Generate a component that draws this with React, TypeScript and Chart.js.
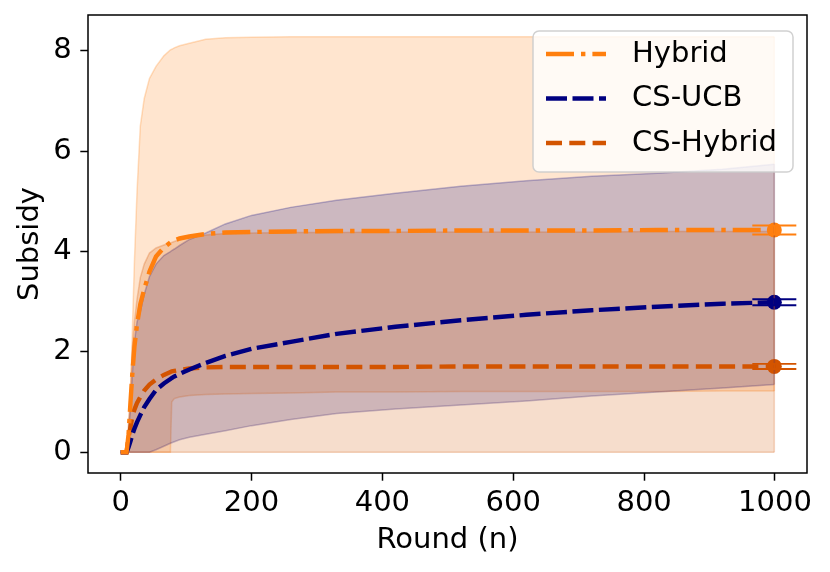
import { useEffect, useRef } from 'react';
import { Chart, registerables } from 'chart.js';

Chart.register(...registerables);

const FONT = 'DejaVu Sans';

// shared x samples (round index)
const rounds = [0, 9, 12, 15, 18, 21, 25, 30, 36, 44, 54, 66, 76, 78, 82, 90, 105, 130, 160, 200, 260, 330, 420, 520, 620, 720, 820, 920, 999];

// mean curves
const hybridMean = [0, 0, 0.35, 1.0, 1.6, 2.1, 2.55, 2.95, 3.25, 3.6, 3.9, 4.08, 4.18, 4.2, 4.22, 4.26, 4.3, 4.35, 4.38, 4.39, 4.4, 4.41, 4.41, 4.42, 4.42, 4.42, 4.43, 4.43, 4.43];
const csUcbMean = [0, 0, 0.1, 0.22, 0.36, 0.47, 0.6, 0.74, 0.9, 1.06, 1.24, 1.37, 1.46, 1.48, 1.51, 1.56, 1.65, 1.78, 1.92, 2.06, 2.2, 2.36, 2.5, 2.63, 2.74, 2.83, 2.9, 2.96, 2.99];
const csHybridMean = [0, 0, 0.3, 0.5, 0.72, 0.85, 0.98, 1.1, 1.23, 1.35, 1.45, 1.54, 1.6, 1.61, 1.62, 1.64, 1.67, 1.69, 1.7, 1.7, 1.7, 1.7, 1.7, 1.71, 1.71, 1.71, 1.71, 1.71, 1.71];

// shaded ranges
const hybridUpper = [0, 0, 0.4, 1.1, 2.5, 3.8, 5.2, 6.5, 7.05, 7.45, 7.69, 7.9, 8.02, 8.03, 8.06, 8.1, 8.15, 8.23, 8.26, 8.27, 8.28, 8.28, 8.28, 8.28, 8.28, 8.28, 8.28, 8.28, 8.28];
const hybridLower = [0, 0, 0, 0, 0, 0, 0, 0, 0, 0, 0, 0, 0, 1.0, 1.07, 1.1, 1.13, 1.15, 1.16, 1.17, 1.18, 1.2, 1.2, 1.21, 1.21, 1.21, 1.21, 1.22, 1.22];
const csUcbUpper = [0, 0, 0.4, 0.9, 1.6, 2.2, 2.6, 2.8, 3.15, 3.5, 3.75, 3.92, 4.0, 4.02, 4.05, 4.12, 4.24, 4.37, 4.55, 4.72, 4.88, 5.02, 5.16, 5.3, 5.41, 5.5, 5.56, 5.64, 5.74];
const csUcbLower = [0, 0, 0, 0, 0, 0, 0, 0, 0, 0, 0.05, 0.12, 0.18, 0.19, 0.21, 0.25, 0.3, 0.36, 0.43, 0.53, 0.65, 0.77, 0.86, 0.94, 1.02, 1.12, 1.2, 1.28, 1.35];
const csHybridUpper = [0, 0, 0.6, 1.3, 2.1, 2.6, 3.05, 3.48, 3.75, 3.97, 4.07, 4.13, 4.17, 4.18, 4.2, 4.24, 4.29, 4.33, 4.36, 4.37, 4.38, 4.38, 4.39, 4.39, 4.39, 4.39, 4.4, 4.4, 4.4];
const csHybridLower = [0, 0, 0, 0, 0, 0, 0, 0, 0, 0, 0, 0, 0, 0, 0, 0, 0, 0, 0, 0, 0, 0, 0, 0, 0, 0, 0, 0, 0];

// error at the final round for each mean
const finalErrors = [0.09, 0.06, 0.05];

const xTicks = [0, 200, 400, 600, 800, 1000];
const yTicks = [0, 2, 4, 6, 8];

const labels = ['Hybrid', 'CS-UCB', 'CS-Hybrid'];
const colors = ['#ff7f0e', '#000080', '#d35400'];
const dashes = [[28, 7, 4.4, 7], [21, 5.5], [16, 7.3]];

const rgba = (hex: string, a: number) => {
    const n = parseInt(hex.slice(1), 16);
    return `rgba(${(n >> 16) & 255}, ${(n >> 8) & 255}, ${n & 255}, ${a})`;
};

const pts = (ys: number[]) => ys.map((y, i) => ({ x: rounds[i], y }));

const lastIdx = rounds.length - 1;

function meanDataset(i: number, ys: number[]) {
    return {
        label: labels[i],
        data: pts(ys),
        borderColor: colors[i],
        backgroundColor: colors[i],
        borderWidth: 4.4,
        borderDash: dashes[i],
        fill: false,
        tension: 0,
        order: i,
        pointRadius: (ctx: any) => (ctx.dataIndex === lastIdx ? 7.5 : 0),
        pointHoverRadius: 0,
        pointBorderWidth: 0,
        pointBackgroundColor: colors[i],
    };
}

function bandDataset(color: string, ys: number[], fill: any, order: number) {
    return {
        label: '',
        data: pts(ys),
        borderColor: rgba(color, 0.25),
        backgroundColor: rgba(color, 0.2),
        borderWidth: 1.5,
        fill,
        tension: 0,
        order,
        pointRadius: 0,
        pointHoverRadius: 0,
    };
}

// [upper, lower] dataset indices of each band, for the closing edge at the last round
const bandPairs = [[3, 4], [5, 6], [7, 8]];

const noPad = (s: any) => {
    s.paddingTop = 0;
    s.paddingBottom = 0;
    s.paddingLeft = 0;
    s.paddingRight = 0;
};

const extras = {
    id: 'extras',
    afterDatasetsDraw(chart: any) {
        const { ctx, scales } = chart;
        const y = scales.y;
        ctx.save();
        bandPairs.forEach(([u, l]) => {
            const pu = chart.getDatasetMeta(u).data[lastIdx];
            const pl = chart.getDatasetMeta(l).data[lastIdx];
            ctx.strokeStyle = chart.data.datasets[u].borderColor;
            ctx.lineWidth = 1.5;
            ctx.beginPath();
            ctx.moveTo(pu.x, pu.y);
            ctx.lineTo(pl.x, pl.y);
            ctx.stroke();
        });
        for (let i = 0; i < 3; i++) {
            const pt = chart.getDatasetMeta(i).data[lastIdx];
            const v = chart.data.datasets[i].data[lastIdx].y;
            const top = y.getPixelForValue(v + finalErrors[i]);
            const bot = y.getPixelForValue(v - finalErrors[i]);
            ctx.strokeStyle = colors[i];
            ctx.lineWidth = 1.9;
            ctx.beginPath();
            ctx.moveTo(pt.x - 22, top);
            ctx.lineTo(pt.x + 22, top);
            ctx.moveTo(pt.x - 22, bot);
            ctx.lineTo(pt.x + 22, bot);
            ctx.moveTo(pt.x, top);
            ctx.lineTo(pt.x, bot);
            ctx.stroke();
        }
        ctx.restore();
    },
    afterDraw(chart: any) {
        const { ctx, chartArea: a } = chart;
        ctx.save();
        ctx.strokeStyle = '#000';
        ctx.lineWidth = 1.5;
        ctx.strokeRect(a.left, a.top, a.right - a.left, a.bottom - a.top);

        // legend
        const w = 260, h = 141;
        const bx = a.right - 14 - w, by = a.top + 16;
        ctx.beginPath();
        ctx.roundRect(bx, by, w, h, 6);
        ctx.fillStyle = 'rgba(255,255,255,0.8)';
        ctx.fill();
        ctx.strokeStyle = 'rgba(204,204,204,0.9)';
        ctx.lineWidth = 1.5;
        ctx.stroke();
        ctx.font = `29px "${FONT}"`;
        ctx.textBaseline = 'middle';
        ctx.textAlign = 'left';
        for (let i = 0; i < 3; i++) {
            const ds = chart.data.datasets[i];
            const ry = by + 23 + i * 44.5;
            ctx.strokeStyle = ds.borderColor;
            ctx.lineWidth = ds.borderWidth;
            ctx.setLineDash(ds.borderDash);
            ctx.beginPath();
            ctx.moveTo(bx + 13, ry);
            ctx.lineTo(bx + 73, ry);
            ctx.stroke();
            ctx.setLineDash([]);
            ctx.fillStyle = '#000';
            ctx.fillText(ds.label, bx + 99, ry);
        }
        ctx.restore();
    },
};

function SubsidyChart() {
    const canvasRef = useRef<HTMLCanvasElement>(null);
    const chartRef = useRef<Chart | null>(null);

    useEffect(() => {
        if (!canvasRef.current) return;
        const ctx = canvasRef.current.getContext('2d');
        if (!ctx) return;
        if (chartRef.current) chartRef.current.destroy();

        const tickFont = { family: FONT, size: 29 };

        chartRef.current = new Chart(ctx, {
            type: 'line',
            data: {
                datasets: [
                    meanDataset(0, hybridMean),
                    meanDataset(1, csUcbMean),
                    meanDataset(2, csHybridMean),
                    bandDataset(colors[0], hybridUpper, 4, 12),
                    bandDataset(colors[0], hybridLower, false, 12),
                    bandDataset(colors[1], csUcbUpper, 6, 11),
                    bandDataset(colors[1], csUcbLower, false, 11),
                    bandDataset(colors[2], csHybridUpper, 8, 10),
                    bandDataset(colors[2], csHybridLower, false, 10),
                ] as any,
            },
            options: {
                responsive: false,
                animation: false,
                events: [],
                layout: { padding: { left: 0, top: 15, right: 23, bottom: 0 } },
                plugins: {
                    legend: { display: false },
                    tooltip: { enabled: false },
                    title: { display: false },
                },
                scales: {
                    x: {
                        type: 'linear',
                        min: -49.95,
                        max: 1048.95,
                        afterBuildTicks: (s: any) => { s.ticks = xTicks.map(v => ({ value: v })); },
                        afterFit: (s: any) => { s.height = 99; noPad(s); },
                        grid: { display: true, drawOnChartArea: false, drawTicks: true, tickLength: 7.7, tickColor: '#000', tickWidth: 1.5 },
                        border: { display: false },
                        ticks: { color: '#000', font: tickFont, padding: 5, maxRotation: 0, autoSkip: false, callback: (v: any) => String(v) },
                        title: { display: true, text: 'Round (n)', color: '#000', font: tickFont, padding: { top: 0, bottom: 14.6 } },
                    },
                    y: {
                        type: 'linear',
                        min: -0.414,
                        max: 8.714,
                        afterBuildTicks: (s: any) => { s.ticks = yTicks.map(v => ({ value: v })); },
                        afterFit: (s: any) => { s.width = 88; noPad(s); },
                        grid: { display: true, drawOnChartArea: false, drawTicks: true, tickLength: 7.7, tickColor: '#000', tickWidth: 1.5 },
                        border: { display: false },
                        ticks: { color: '#000', font: tickFont, padding: 8.5, autoSkip: false, callback: (v: any) => String(v) },
                        title: { display: true, text: 'Subsidy', color: '#000', font: tickFont, padding: { top: 12.6, bottom: 0 } },
                    },
                },
            } as any,
            plugins: [extras],
        });

        return () => {
            if (chartRef.current) {
                chartRef.current.destroy();
                chartRef.current = null;
            }
        };
    }, []);

    return <canvas ref={canvasRef} width={830} height={572} style={{ display: 'block', width: 830, height: 572 }} />;
}

export default function App() {
    return (
        <div style={{ position: 'absolute', left: 0, top: 0, width: 830, height: 572, background: '#fff' }}>
            <SubsidyChart />
        </div>
    );
}
